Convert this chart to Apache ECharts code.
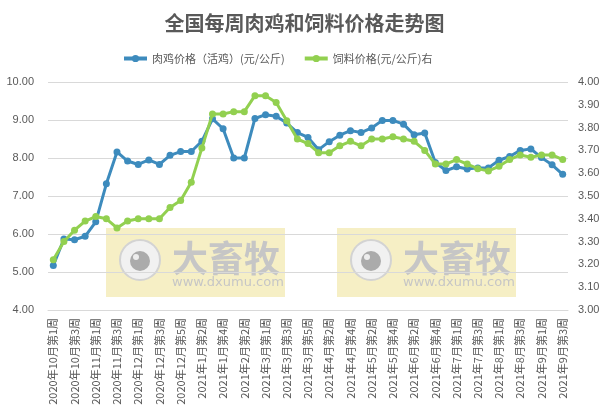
<!DOCTYPE html>
<html>
<head>
<meta charset="utf-8">
<script src="https://cdn.jsdelivr.net/npm/echarts@6/dist/echarts.min.js"></script>
<style>
html,body{margin:0;padding:0;background:#fff;}
#chart{width:609px;height:416px;}
</style>
</head>
<body>
<div id="chart"></div>
<script>
var titleText = '全国每周肉鸡和饲料价格走势图';
var seriesNames = ['肉鸡价格（活鸡）(元/公斤)', '饲料价格(元/公斤)右'];
var categories = ['2020年10月第1周','2020年10月第2周','2020年10月第3周','2020年10月第4周','2020年11月第1周','2020年11月第2周','2020年11月第3周','2020年11月第4周','2020年12月第1周','2020年12月第2周','2020年12月第3周','2020年12月第4周','2020年12月第5周','2021年1月第1周','2021年1月第2周','2021年1月第3周','2021年1月第4周','2021年2月第1周','2021年2月第2周','2021年2月第4周','2021年3月第1周','2021年3月第2周','2021年3月第3周','2021年3月第4周','2021年3月第5周','2021年4月第1周','2021年4月第2周','2021年4月第3周','2021年4月第4周','2021年5月第1周','2021年5月第2周','2021年5月第3周','2021年5月第4周','2021年6月第1周','2021年6月第2周','2021年6月第3周','2021年6月第4周','2021年6月第5周','2021年7月第1周','2021年7月第2周','2021年7月第3周','2021年7月第4周','2021年8月第1周','2021年8月第2周','2021年8月第3周','2021年8月第4周','2021年9月第1周','2021年9月第2周','2021年9月第3周'];
var chickenPrice = [5.17,5.87,5.85,5.94,6.32,7.32,8.16,7.92,7.83,7.95,7.83,8.07,8.17,8.17,8.44,9.03,8.77,8.00,8.00,9.04,9.14,9.10,8.92,8.67,8.54,8.22,8.43,8.60,8.72,8.67,8.79,8.99,8.99,8.89,8.61,8.66,7.88,7.67,7.77,7.71,7.74,7.74,7.94,8.04,8.20,8.24,8.01,7.82,7.57];
var feedPrice = [3.22,3.30,3.35,3.39,3.41,3.40,3.36,3.39,3.40,3.40,3.40,3.45,3.48,3.56,3.71,3.86,3.86,3.87,3.87,3.94,3.94,3.91,3.83,3.75,3.73,3.69,3.69,3.72,3.74,3.72,3.75,3.75,3.76,3.75,3.74,3.70,3.64,3.64,3.66,3.64,3.62,3.61,3.63,3.66,3.68,3.67,3.68,3.68,3.66];
var watermarkText = '大畜牧';
var watermarkUrl = 'www.dxumu.com';

var FONT = '"Noto Sans CJK SC", "Liberation Sans", sans-serif';
var txtColor = '#595959';

function watermark(x0, y0) {
  return {
    type: 'group', left: x0, top: y0, z: 50,
    children: [
      {type: 'rect', shape: {x: 0, y: 0, width: 179, height: 69},
       style: {fill: 'rgba(238,226,150,0.55)'}},
      {type: 'circle', shape: {cx: 34, cy: 32, r: 20},
       style: {fill: '#f1f1f1', stroke: '#d3d3d3', lineWidth: 2}},
      {type: 'circle', shape: {cx: 34, cy: 33, r: 10},
       style: {fill: '#ababab'}},
      {type: 'circle', shape: {cx: 30, cy: 29, r: 3},
       style: {fill: '#eeeeee'}},
      {type: 'text', left: 66, top: 12,
       style: {text: watermarkText, font: 'bold 36px "Noto Sans CJK SC"', fill: '#c6c6c6'}},
      {type: 'text', left: 66, top: 48,
       style: {text: watermarkUrl, font: '13px "DejaVu Sans"', fill: '#c6c6c6'}}
    ]
  };
}

var chart = echarts.init(document.getElementById('chart'), null, {renderer: 'canvas'});
chart.setOption({
  backgroundColor: '#ffffff',
  animation: false,
  title: {
    text: titleText, left: 'center', top: 8,
    textStyle: {fontFamily: FONT, fontSize: 20, fontWeight: 'bold', color: txtColor}
  },
  legend: {
    left: 117, top: 48, itemWidth: 23, itemHeight: 9, itemGap: 18,
    textStyle: {fontFamily: FONT, fontSize: 11, color: txtColor},
    lineStyle: {width: 4},
    data: seriesNames
  },
  grid: {left: 48, right: 41, top: 82, bottom: 106, containLabel: false},
  xAxis: {
    type: 'category', data: categories, boundaryGap: true,
    axisLine: {lineStyle: {color: '#d9d9d9'}},
    axisTick: {show: false},
    axisLabel: {interval: 1, rotate: 90, fontSize: 11, color: txtColor, fontFamily: FONT, margin: 8}
  },
  yAxis: [
    {type: 'value', min: 4, max: 10, interval: 1,
     axisLine: {show: false}, axisTick: {show: false},
     splitLine: {lineStyle: {color: '#d9d9d9'}},
     axisLabel: {formatter: function (v) { return v.toFixed(2); }, fontSize: 11, color: txtColor, fontFamily: '"Liberation Sans", sans-serif', margin: 14}},
    {type: 'value', min: 3, max: 4, interval: 0.1,
     axisLine: {show: false}, axisTick: {show: false},
     splitLine: {show: false},
     axisLabel: {formatter: function (v) { return v.toFixed(2); }, fontSize: 11, color: txtColor, fontFamily: '"Liberation Sans", sans-serif', margin: 10}}
  ],
  series: [
    {name: seriesNames[0], type: 'line', yAxisIndex: 0, data: chickenPrice,
     symbol: 'circle', symbolSize: 7, showAllSymbol: true,
     lineStyle: {width: 3, color: '#3d8bbd'}, itemStyle: {color: '#3d8bbd'}, z: 3},
    {name: seriesNames[1], type: 'line', yAxisIndex: 1, data: feedPrice,
     symbol: 'circle', symbolSize: 7, showAllSymbol: true,
     lineStyle: {width: 3, color: '#92d050'}, itemStyle: {color: '#92d050'}, z: 4}
  ],
  graphic: [watermark(106, 228), watermark(337, 228)]
});
</script>
</body>
</html>
